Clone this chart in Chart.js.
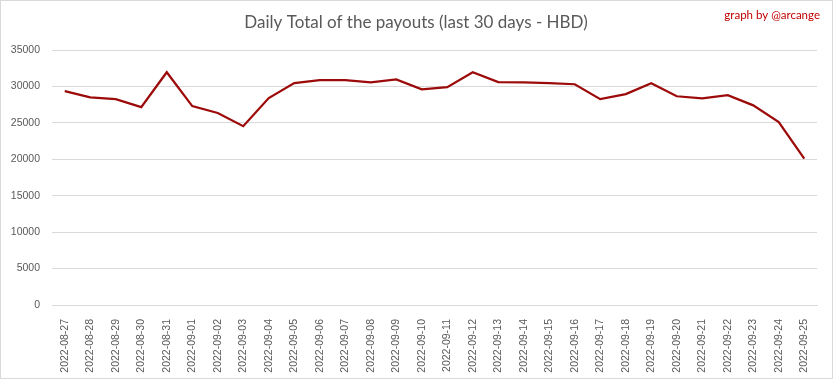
<!DOCTYPE html>
<html><head><meta charset="utf-8">
<script src="https://cdn.jsdelivr.net/npm/chart.js"></script>
<style>html,body{margin:0;padding:0;background:#fff}#wrap{width:833px;height:379px;position:relative}</style>
</head><body><div id="wrap"><canvas id="c" width="833" height="379"></canvas></div>
<script>
const categories = ["2022-08-27","2022-08-28","2022-08-29","2022-08-30","2022-08-31","2022-09-01","2022-09-02","2022-09-03","2022-09-04","2022-09-05","2022-09-06","2022-09-07","2022-09-08","2022-09-09","2022-09-10","2022-09-11","2022-09-12","2022-09-13","2022-09-14","2022-09-15","2022-09-16","2022-09-17","2022-09-18","2022-09-19","2022-09-20","2022-09-21","2022-09-22","2022-09-23","2022-09-24","2022-09-25"];
const payouts = [29350,28500,28250,27150,31950,27300,26350,24550,28400,30450,30850,30850,30550,30950,29600,29900,31950,30600,30550,30450,30300,28250,28950,30450,28650,28350,28800,27400,25100,20100];
const yTicks = [0,5000,10000,15000,20000,25000,30000,35000];
const titleText = "Daily Total of the payouts (last 30 days - HBD)";
const creditText = "graph by @arcange";

const deco = {
  id:'deco',
  beforeDraw(chart){
    const ctx = chart.ctx;
    ctx.save();
    ctx.fillStyle='#fff';ctx.fillRect(0,0,chart.width,chart.height);
    ctx.strokeStyle='#d9d9d9';ctx.lineWidth=1;
    ctx.strokeRect(0.5,0.5,chart.width-1,chart.height-1);
    ctx.restore();
  },
  afterDraw(chart){
    const ctx = chart.ctx;
    ctx.save();
    ctx.fillStyle='#595959';
    ctx.font='17px Lato, "Open Sans", sans-serif';
    ctx.textAlign='center';ctx.textBaseline='middle';
    ctx.fillText(titleText,416,23);
    ctx.fillStyle='#c00000';
    ctx.font='11.5px Lato, "Open Sans", sans-serif';
    ctx.textAlign='right';
    ctx.fillText(creditText,820,15);
    ctx.restore();
  }
};

new Chart(document.getElementById('c'),{
  type:'line',
  data:{labels:categories,datasets:[{data:payouts,borderColor:'#9c0a0a',borderWidth:2.25,pointRadius:0,tension:0,fill:false}]},
  options:{
    responsive:false,animation:false,
    layout:{padding:{top:50,right:16,left:0,bottom:0}},
    plugins:{legend:{display:false},title:{display:false},tooltip:{enabled:false}},
    scales:{
      x:{offset:true,grid:{display:false},border:{display:true,color:'#d9d9d9'},
        ticks:{minRotation:90,maxRotation:90,autoSkip:false,padding:6,color:'#595959',font:{family:'"Liberation Sans", Arial, sans-serif',size:10.5}},
        afterFit(s){s.height=74;}},
      y:{min:0,max:35000,afterBuildTicks(s){s.ticks=yTicks.map(v=>({value:v}));},
        grid:{color:'#d9d9d9',drawTicks:false},border:{display:false},
        ticks:{padding:12,color:'#595959',callback:(v)=>String(v),font:{family:'"Liberation Sans", Arial, sans-serif',size:10.5}},
        afterFit(s){s.width=52;}}
    }
  },
  plugins:[deco]
});
</script></body></html>
